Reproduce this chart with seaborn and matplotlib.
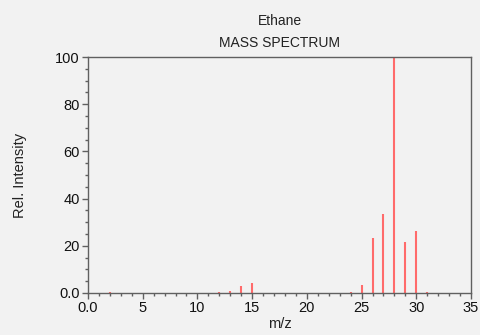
import matplotlib
matplotlib.use("Agg")
import matplotlib.pyplot as plt
import seaborn as sns
from matplotlib.ticker import MultipleLocator, FuncFormatter

# Data: ethane mass spectrum (m/z, relative intensity)
mz = [2, 12, 13, 14, 15, 16, 24, 25, 26, 27, 28, 29, 30, 31]
intensity = [0.4, 0.3, 1.0, 3.0, 4.3, 0.1, 0.5, 3.4, 23.3, 33.3, 100.0, 21.6, 26.2, 0.5]

title_lines = ["Ethane", "MASS SPECTRUM"]

sns.set_theme(style="ticks")
plt.rcParams["font.family"] = ["Liberation Sans", "DejaVu Sans"]

bg = "#f2f2f2"
fig = plt.figure(figsize=(4.8, 3.35), dpi=100, facecolor=bg)
ax = fig.add_axes([88/480, 1-293/335, (471-88)/480, (293-57)/335])
ax.set_facecolor(bg)

ax.vlines(mz, 0, intensity, colors="#ff6b6b", linewidth=1.5)

ax.set_xlim(0, 35)
ax.set_ylim(0, 100)
ax.xaxis.set_major_locator(MultipleLocator(5))
ax.xaxis.set_minor_locator(MultipleLocator(1))
ax.yaxis.set_major_locator(MultipleLocator(20))
ax.yaxis.set_minor_locator(MultipleLocator(5))
fmt = FuncFormatter(lambda v, p: "0.0" if abs(v) < 1e-9 else f"{v:.0f}")
ax.xaxis.set_major_formatter(fmt)
ax.yaxis.set_major_formatter(fmt)

spine_c = "#606060"
for s in ax.spines.values():
    s.set_visible(True)
    s.set_color(spine_c)
    s.set_linewidth(1.0)
ax.tick_params(which="major", direction="out", length=4, width=1, color=spine_c,
               labelsize=10.5, labelcolor="#111111", pad=2)
ax.tick_params(which="minor", direction="out", length=2.5, width=1, color=spine_c)
ax.tick_params(top=False, right=False, which="both")

ax.set_xlabel("m/z", fontsize=10.5, color="#222222", labelpad=1)
ax.set_ylabel("Rel. Intensity", fontsize=10.5, color="#222222", labelpad=20)
ax.grid(False)

fig.text(0.583, 1-21/335, title_lines[0], ha="center", va="center", fontsize=10, color="#222222")
fig.text(0.583, 1-43/335, title_lines[1], ha="center", va="center", fontsize=10, color="#222222")

fig.savefig("out.png", dpi=100, facecolor=bg)
